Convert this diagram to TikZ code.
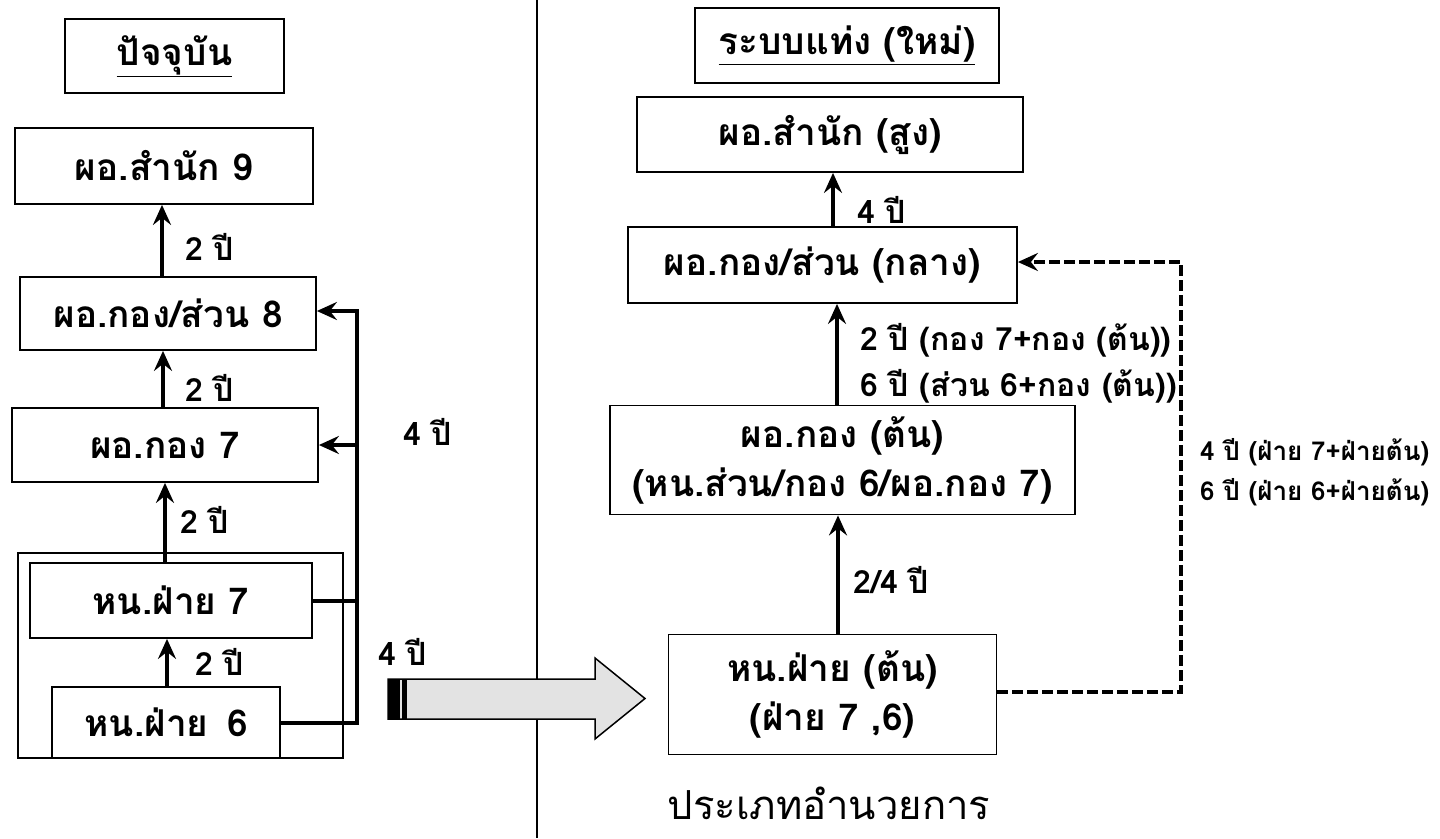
\documentclass[tikz,border=0pt]{standalone}
\usepackage{fontspec}
\newfontfamily\thai[Script=Thai]{Loma}
\usetikzlibrary{arrows.meta}
\begin{document}
\begin{tikzpicture}[x=1pt,y=-1pt,
  box/.style={draw, line width=1.8pt, inner sep=0pt, align=center,
    font=\thai\bfseries\fontsize{37}{49}\selectfont},
  lbl/.style={inner sep=0pt, anchor=west, font=\thai\bfseries\fontsize{32}{36}\selectfont},
  slbl/.style={inner sep=0pt, anchor=west, font=\thai\bfseries\fontsize{26}{30}\selectfont},
  tip/.style={-{Stealth[length=20pt,width=18pt,inset=7pt]}},
  up/.style={line width=4pt, tip},
  bus/.style={line width=4pt, line join=miter},
  dashline/.style={line width=4pt, dash pattern=on 11pt off 4pt},
]
\useasboundingbox (0,0) rectangle (1440,838);
% divider
\coordinate (dvt) at (537,0);
\coordinate (dvb) at (537,838);
\draw[line width=2.5pt] (dvt) -- (dvb);

% ---------- left ----------
\node[box, minimum width=219pt, minimum height=74pt] (t1) at (174.5,56) {\underline{ปัจจุบัน}};
\node[box, minimum width=298pt, minimum height=76pt] (n9) at (164,166) {ผอ.สำนัก 9};
\node[box, minimum width=296pt, minimum height=73pt] (n8) at (168,313.5) {ผอ.กอง/ส่วน 8};
\node[box, minimum width=306pt, minimum height=74pt] (n7) at (165,445) {ผอ.กอง 7};
\node[draw, line width=1.8pt, minimum width=325pt, minimum height=205pt, inner sep=0pt] (grp) at (180.5,655.5) {};
\node[box, minimum width=282pt, minimum height=75pt] (f7) at (171,600.5) {หน.ฝ่าย 7};
\node[box, minimum width=228pt, minimum height=71pt] (f6) at (166,722.5) {หน.ฝ่าย\enspace 6};

\draw[up] (f6.north -| 167,0) -- (f7.south -| 167,0);
\draw[up] (f7.north -| 165,0) -- (n7.south -| 165,0);
\draw[up] (n7.north -| 163,0) -- (n8.south -| 163,0);
\draw[up] (n8.north -| 162,0) -- (n9.south -| 162,0);

\coordinate (bt) at (357,311);
\coordinate (bb) at (357,722.5);
\draw[bus, tip] (f6.east) -- (bb) -- (bt) -- (bt -| n8.east);
\draw[bus] (f7.east) -- (f7.east -| bb);
\draw[up] (bb |- n7.east) -- (n7.east);

\node[lbl] (l1) at (185,247) {2 ปี};
\node[lbl] (l2) at (185,388) {2 ปี};
\node[lbl] (l3) at (180,520) {2 ปี};
\node[lbl] (l4) at (195,662) {2 ปี};
\node[lbl] (l5) at (403,432) {4 ปี};
\node[lbl] (l6) at (378,652) {4 ปี};

% big arrow
\draw[line width=1.5pt, fill=gray!22] (388,679) -- (595,679) -- (595,658) -- (645,698.5)
  -- (595,739) -- (595,719) -- (388,719) -- cycle;
\fill (388,679) rectangle (400,719);
\fill (402,679) rectangle (407,719);

% ---------- right ----------
\node[box, minimum width=304pt, minimum height=75pt] (t2) at (847,45.5) {\underline{ระบบแท่ง (ใหม่)}};
\node[box, minimum width=386pt, minimum height=75pt] (rs) at (830,134.5) {ผอ.สำนัก (สูง)};
\node[box, minimum width=389pt, minimum height=76pt] (rm) at (822.5,265) {ผอ.กอง/ส่วน (กลาง)};
\node[box, minimum width=465pt, minimum height=109pt] (rk) at (842.5,460) {ผอ.กอง (ต้น)\\(หน.ส่วน/กอง 6/ผอ.กอง 7)};
\node[box, minimum width=328pt, minimum height=120pt] (rf) at (832.5,694.5) {หน.ฝ่าย (ต้น)\\(ฝ่าย 7 ,6)};

\draw[up] (rm.north -| 833,0) -- (rs.south -| 833,0);
\draw[up] (rk.north -| 837,0) -- (rm.south -| 837,0);
\draw[up] (rf.north -| 838,0) -- (rk.south -| 838,0);

\node[lbl] (r1) at (857,210) {4 ปี};
\node[lbl] (r2) at (860,340) {2 ปี (กอง 7+กอง (ต้น))};
\node[lbl] (r3) at (860,386) {6 ปี (ส่วน 6+กอง (ต้น))};
\node[lbl] (r4) at (853,580) {2/4 ปี};
\node[slbl] (r5) at (1200,452) {4 ปี (ฝ่าย 7+ฝ่ายต้น)};
\node[slbl] (r6) at (1200,492) {6 ปี (ฝ่าย 6+ฝ่ายต้น)};

\coordinate (dr) at (1181,692);
\coordinate (dt) at (1181,262);
\draw[dashline, tip] (dr -| rf.east) -- (dr) -- (dt) -- (dt -| rm.east);

\node[inner sep=0pt, font=\thai\fontsize{40}{44}\selectfont] (cap) at (829,803) {ประเภทอำนวยการ};
\end{tikzpicture}
\end{document}
